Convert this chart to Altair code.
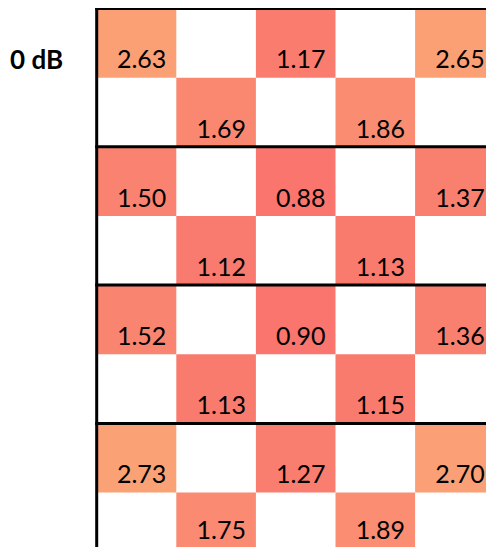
import altair as alt
import pandas as pd

# ---- data ----
group_labels = ["0 dB"]
row1 = [2.63, 1.17, 2.65]
row2 = [1.69, 1.86]
row3 = [1.50, 0.88, 1.37]
row4 = [1.12, 1.13]
row5 = [1.52, 0.90, 1.36]
row6 = [1.13, 1.15]
row7 = [2.73, 1.27, 2.70]
row8 = [1.75, 1.89]
rows = [row1, row2, row3, row4, row5, row6, row7, row8]
odd_row_cols = [0, 2, 4]
even_row_cols = [1, 3]
group_bounds = [0, 2, 4, 6, 8]

records = []
for r, vals in enumerate(rows):
    cols = odd_row_cols if r % 2 == 0 else even_row_cols
    for c, v in zip(cols, vals):
        records.append(dict(col=c, col2=c + 1, row=r, row2=r + 1,
                            value=v, label=f"{v:.2f}"))
cells = pd.DataFrame(records)
hlines = pd.DataFrame({"y": group_bounds, "x": 0, "x2": 5.3})
vline = pd.DataFrame({"x": [0], "y": [0], "y2": [8.2]})
labels = pd.DataFrame({"label": group_labels})

W, H = 478, 539
x0, cw = 88.7, 79.6
y0, rh, last_rh = 0.5, 69.15, 56.0
xs = alt.Scale(domain=[0, 5], range=[x0, x0 + 5 * cw])
# last row is cut by the bottom edge of the window, so it is drawn shorter
ys = alt.Scale(domain=[0, 7, 8],
               range=[y0, y0 + 7 * rh, y0 + 7 * rh + last_rh])
cs = alt.Scale(domain=[0.4, 5.8], range=["#F8696B", "#FFEB84"], interpolate="rgb")

rects = alt.Chart(cells).mark_rect(clip=True).encode(
    x=alt.X("col:Q", scale=xs, axis=None),
    x2="col2:Q",
    y=alt.Y("row:Q", scale=ys, axis=None),
    y2="row2:Q",
    color=alt.Color("value:Q", scale=cs, legend=None),
)

texts = alt.Chart(cells).mark_text(
    align="right", baseline="alphabetic", dx=-10, dy=-9.3,
    font="Lato", fontSize=25, color="black",
).encode(
    x=alt.X("col2:Q", scale=xs, axis=None),
    y=alt.Y("row2:Q", scale=ys, axis=None),
    text="label:N",
)

hrules = alt.Chart(hlines).mark_rule(
    color="black", strokeWidth=3, strokeCap="square", clip=True
).encode(
    x=alt.X("x:Q", scale=xs, axis=None),
    x2="x2:Q",
    y=alt.Y("y:Q", scale=ys, axis=None),
)

vrule = alt.Chart(vline).mark_rule(
    color="black", strokeWidth=3, strokeCap="square", clip=True
).encode(
    x=alt.X("x:Q", scale=xs, axis=None),
    y=alt.Y("y:Q", scale=ys, axis=None),
    y2="y2:Q",
)

glabel = alt.Chart(labels).mark_text(
    align="left", baseline="alphabetic", font="Lato", fontSize=26,
    fontWeight="bold", color="black",
).encode(
    x=alt.value(2),
    y=alt.value(61),
    text="label:N",
)

chart = alt.layer(rects, texts, hrules, vrule, glabel).properties(
    width=W, height=H, padding=0,
    autosize=alt.AutoSizeParams(type="none"),
).configure_view(stroke=None)

chart.save("out.html", embed_options={"renderer": "svg", "actions": False})
